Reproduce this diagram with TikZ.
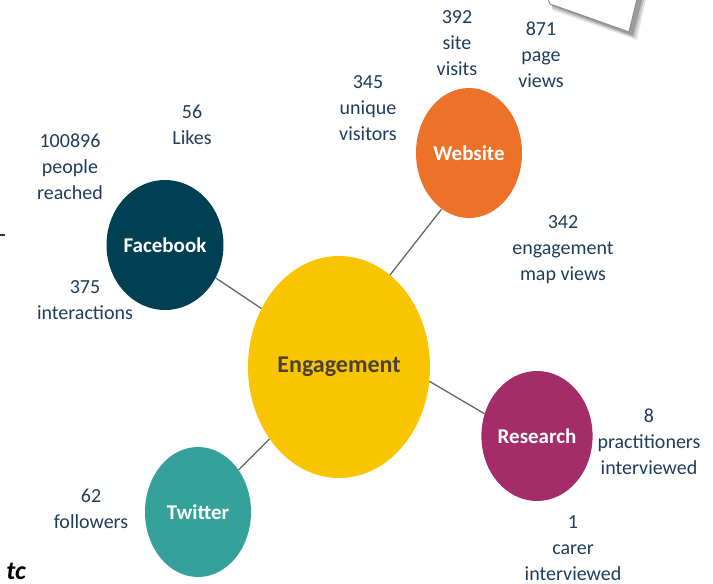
\documentclass[tikz,border=0pt]{standalone}
\usepackage{fontspec}
\setmainfont{Carlito}
\usepackage{xcolor}
\usetikzlibrary{positioning,shapes.geometric}
\definecolor{ink}{HTML}{1F3D5C}
\definecolor{fbcol}{HTML}{004052}
\definecolor{webcol}{HTML}{EC7129}
\definecolor{engcol}{HTML}{F9C400}
\definecolor{rescol}{HTML}{A42C68}
\definecolor{twcol}{HTML}{34A29B}
\definecolor{engtext}{HTML}{4B4036}

\begin{document}
\begin{tikzpicture}[
    x=1pt, y=-1pt,
    hub/.style={ellipse, draw=none, inner sep=0pt, font=\fontsize{21}{24}\selectfont\bfseries, text=white},
    small/.style={hub, minimum width=106pt, minimum height=130pt},
    stat/.style={align=center, text=ink, inner sep=0pt, font=\fontsize{20}{26}\selectfont},
    link/.style={draw=black!60, line width=1.3pt}
]
    \useasboundingbox (0,0) rectangle (713,584);

    % paper corner, top right
    \foreach \o/\a in {6/0.10, 4/0.15, 2/0.2}
        \fill[black, opacity=\a] (552,0) -- (552,4+\o) -- (631+\o,34+\o) -- (640+\o,0) -- cycle;
    \filldraw[fill=white, draw=black!45, line width=1pt] (548,-1) -- (550,4) -- (629,32) -- (637,-1);
    \fill[black!80] (0,234) rectangle (5,236);
    \node[font=\fontsize{26}{28}\selectfont\bfseries\itshape, inner sep=0pt] (tc) at (16,571) {tc};

    % circles
    \node[hub, fill=engcol, text=engtext, minimum width=182pt, minimum height=222pt,
          font=\fontsize{24}{28}\selectfont\bfseries] (eng) at (339,367) {Engagement};
    \node[small, fill=fbcol] (fb) at (165,245) {Facebook};
    \node[small, fill=webcol] (web) at (469,153) {Website};
    \node[small, fill=rescol] (res) at (537,436) {Research};
    \node[small, fill=twcol] (tw) at (198,512) {Twitter};

    \draw[link] (eng.143) -- (fb.-33);
    \draw[link] (eng.61) -- (web.244);
    \draw[link] (eng.-9) -- (res.157);
    \draw[link] (eng.226) -- (tw.46);

    % figures
    \node[stat] (likes) at (192,125) {56\\Likes};
    \node[stat] (reached) at (70,167) {100896\\people\\reached};
    \node[stat] (inter) at (85,300) {375\\interactions};
    \node[stat] (unique) at (368,108) {345\\unique\\visitors};
    \node[stat] (visits) at (457,43) {392\\site\\visits};
    \node[stat] (pages) at (541,55) {871\\page\\views};
    \node[stat] (maps) at (563,250) {342\\engagement\\map views};
    \node[stat] (pract) at (649,442) {8\\practitioners\\interviewed};
    \node[stat] (carer) at (573,548) {1\\carer\\interviewed};
    \node[stat] (follow) at (91,509) {62\\followers};
\end{tikzpicture}
\end{document}
